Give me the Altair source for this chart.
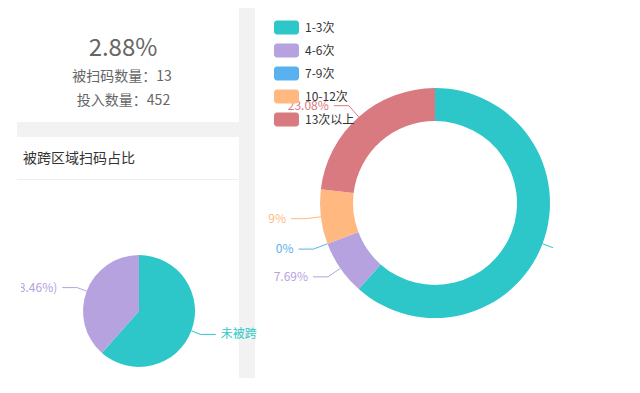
import altair as alt
import pandas as pd

# ---------------- data ----------------
ring_cats = ["1-3次", "4-6次", "7-9次", "10-12次", "13次以上"]
ring_counts = [8, 1, 0, 1, 3]
ring_pct = ["61.54%", "7.69%", "0%", "7.69%", "23.08%"]
ring_colors = ["#2ec7c9", "#b6a2de", "#5ab1ef", "#ffb980", "#d87a80"]

pie_cats = ["未被跨区域扫码", "被跨区域扫码"]
pie_counts = [8, 5]
pie_pct = ["61.54%", "38.46%"]
pie_colors = ["#2ec7c9", "#b6a2de"]

kpi_rate = "2.88%"
kpi_scanned = "被扫码数量：13"
kpi_input = "投入数量：452"
card_title = "被跨区域扫码占比"

FONT = "Noto Sans CJK SC"
GRAY = "#f2f2f2"

ring_df = pd.DataFrame({
    "cat": ring_cats, "value": ring_counts, "label": ring_pct,
    "col": ring_colors, "ord": list(range(len(ring_cats))),
})
pie_df = pd.DataFrame({
    "cat": pie_cats, "value": pie_counts,
    "label": [f"{c}({p})" for c, p in zip(pie_cats, pie_pct)],
    "col": pie_colors, "ord": list(range(len(pie_cats))),
})
one = alt.Data(values=[{}])


def geo(df, cx, cy, R, l1, l2):
    return (
        alt.Chart(df)
        .transform_joinaggregate(total="sum(value)")
        .transform_window(cum="sum(value)", sort=[alt.SortField("ord")], frame=[None, 0])
        .transform_calculate(mid="(datum.cum - datum.value/2) / datum.total * 2 * PI")
        .transform_calculate(s="sin(datum.mid)", c="cos(datum.mid)")
        .transform_calculate(
            side="datum.s >= 0 ? 1 : -1",
            ex=f"{cx} + {R}*datum.s", ey=f"{cy} - {R}*datum.c",
            bx=f"{cx} + {R + l1}*datum.s", by=f"{cy} - {R + l1}*datum.c",
        )
        .transform_calculate(
            hx=f"datum.bx + {l2}*datum.side", tx=f"datum.bx + {l2 + 5}*datum.side"
        )
    )


def leaders(df, cx, cy, R, l1, l2, right_limit=None):
    base = geo(df, cx, cy, R, l1, l2)
    seg1 = base.mark_rule(strokeWidth=1).encode(
        x=alt.X("ex:Q", scale=None, axis=None), x2="bx:Q",
        y=alt.Y("ey:Q", scale=None, axis=None), y2="by:Q",
        stroke=alt.Stroke("col:N", scale=None),
    )
    seg2 = base.mark_rule(strokeWidth=1).encode(
        x=alt.X("bx:Q", scale=None, axis=None), x2="hx:Q",
        y=alt.Y("by:Q", scale=None, axis=None),
        stroke=alt.Stroke("col:N", scale=None),
    )
    left = base.transform_filter("datum.side < 0").mark_text(
        align="right", baseline="middle", font=FONT, fontSize=12
    ).encode(
        x=alt.X("tx:Q", scale=None, axis=None), y=alt.Y("by:Q", scale=None, axis=None),
        text="label:N", fill=alt.Fill("col:N", scale=None),
    )
    rkw = dict(align="left", baseline="middle", font=FONT, fontSize=12)
    if right_limit:
        rkw.update(limit=right_limit, ellipsis="\u200b")
    right = base.transform_filter("datum.side > 0").mark_text(**rkw).encode(
        x=alt.X("tx:Q", scale=None, axis=None), y=alt.Y("by:Q", scale=None, axis=None),
        text="label:N", fill=alt.Fill("col:N", scale=None),
    )
    return [seg1, seg2, left, right]


# ---------------- decorations ----------------
strip = alt.Chart(one).mark_rect(color=GRAY).encode(
    x=alt.value(231), x2=alt.value(247), y=alt.value(0), y2=alt.value(370))
gap = alt.Chart(one).mark_rect(color=GRAY).encode(
    x=alt.value(9), x2=alt.value(231), y=alt.value(114), y2=alt.value(129))
sep = alt.Chart(one).mark_rule(color="#eeeeee", strokeWidth=1).encode(
    x=alt.value(9), x2=alt.value(230), y=alt.value(171.5))

kpi_df = pd.DataFrame({"t": [kpi_rate], "a": [kpi_scanned], "b": [kpi_input], "h": [card_title]})
t_rate = alt.Chart(kpi_df).mark_text(font=FONT, fontSize=24, color="#666", baseline="middle").encode(
    text="t:N", x=alt.value(115), y=alt.value(41))
t_a = alt.Chart(kpi_df).mark_text(font=FONT, fontSize=14, color="#666", baseline="middle").encode(
    text="a:N", x=alt.value(114), y=alt.value(69))
t_b = alt.Chart(kpi_df).mark_text(font=FONT, fontSize=14, color="#666", baseline="middle").encode(
    text="b:N", x=alt.value(115.5), y=alt.value(92.5))
t_h = alt.Chart(kpi_df).mark_text(font=FONT, fontSize=14, color="#333", baseline="middle", align="left").encode(
    text="h:N", x=alt.value(15), y=alt.value(150.5))

# ---------------- pie ----------------
PCX, PCY, PR = 131, 303, 56
pie = alt.Chart(pie_df).mark_arc(outerRadius=PR).encode(
    theta=alt.Theta("value:Q", stack=True),
    order=alt.Order("ord:Q"),
    fill=alt.Fill("col:N", scale=None),
    x=alt.value(PCX), y=alt.value(PCY),
)
pie_labels = leaders(pie_df, PCX, PCY, PR, 10, 15, right_limit=37)

# ---------------- donut ----------------
DCX, DCY, DR, DRI = 427, 195, 115, 82
sym = ("M-0.76,-0.56L0.76,-0.56A0.24,0.24,0,0,1,1,-0.32L1,0.32A0.24,0.24,0,0,1,0.76,0.56"
       "L-0.76,0.56A0.24,0.24,0,0,1,-1,0.32L-1,-0.32A0.24,0.24,0,0,1,-0.76,-0.56Z")
donut = alt.Chart(ring_df).mark_arc(outerRadius=DR, innerRadius=DRI).encode(
    theta=alt.Theta("value:Q", stack=True),
    order=alt.Order("ord:Q"),
    color=alt.Color(
        "cat:N",
        scale=alt.Scale(domain=ring_cats, range=ring_colors),
        sort=ring_cats,
        legend=alt.Legend(
            orient="none", legendX=266, legendY=7, title=None,
            symbolType=sym, symbolSize=625, symbolStrokeWidth=0, symbolOpacity=1,
            labelFont=FONT, labelFontSize=12, labelColor="#333", labelOffset=6,
            rowPadding=3, padding=0,
        ),
    ),
    x=alt.value(DCX), y=alt.value(DCY),
)
donut_labels = leaders(ring_df, DCX, DCY, DR, 15, 15)

# clip covers (card edges of the screenshot)
clip_r = alt.Chart(one).mark_rect(color="white").encode(
    x=alt.value(545), x2=alt.value(624), y=alt.value(0), y2=alt.value(377))
clip_l = alt.Chart(one).mark_rect(color="white").encode(
    x=alt.value(0), x2=alt.value(13), y=alt.value(175), y2=alt.value(377))
clip_m = alt.Chart(one).mark_rect(color="white").encode(
    x=alt.value(247), x2=alt.value(260), y=alt.value(150), y2=alt.value(300))

chart = alt.layer(
    gap, sep, t_rate, t_a, t_b, t_h,
    donut, *donut_labels, clip_m,
    strip,
    pie, *pie_labels,
    clip_r, clip_l,
).resolve_scale(theta="independent").properties(
    width=624, height=377, autosize=alt.AutoSizeParams(type="none"), padding=0,
).configure_view(strokeWidth=0)

chart.save("out.html", embed_options={"renderer": "svg", "actions": False})
